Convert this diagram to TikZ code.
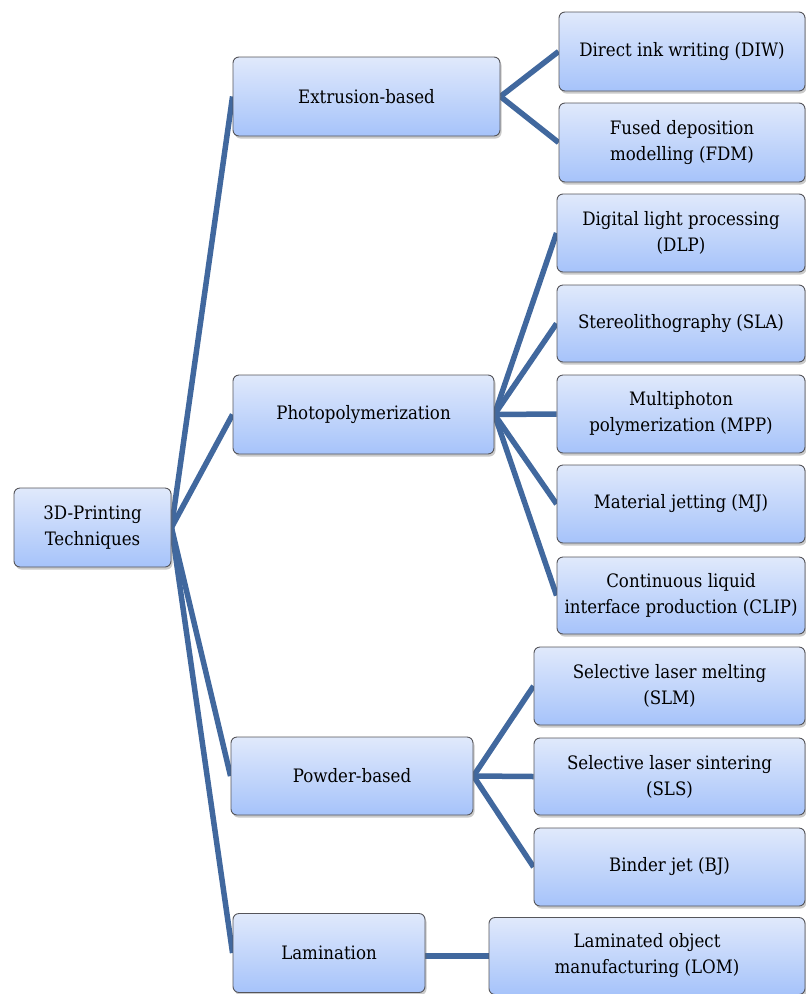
\documentclass[tikz,border=0pt]{standalone}
\usepackage{fontspec}
\setmainfont{DejaVu Serif Condensed}
\usepackage{tikz}
\usetikzlibrary{shadows,backgrounds}

\definecolor{boxtop}{RGB}{224,233,251}
\definecolor{boxbottom}{RGB}{166,195,250}
\definecolor{boxedge}{RGB}{85,85,90}
\definecolor{linkblue}{RGB}{65,104,158}

\begin{document}
\begin{tikzpicture}[x=1pt,y=-1pt]
        % Define the styles for the boxes and the links
        \tikzstyle{techbox}=[draw=boxedge, line width=0.9pt, rounded corners=6pt, top color=boxtop, bottom color=boxbottom, align=center, inner sep=0pt, font=\fontsize{18.5}{26}\selectfont, drop shadow={shadow xshift=1.5pt, shadow yshift=-2.5pt, opacity=0.35, fill=black!60}];
        \tikzstyle{link}=[draw=linkblue, line width=5.5pt];

        \useasboundingbox (0,0) rectangle (806,994);

        % Root of the tree
        \node[techbox, minimum width=157pt, minimum height=79pt] (root) at (92.5,527.5) {3D-Printing\\Techniques};

        % The four families
        \node[techbox, minimum width=267pt, minimum height=79pt] (extrusion) at (366.5,96.5) {Extrusion-based};
        \node[techbox, minimum width=261pt, minimum height=79pt] (photo) at (363.5,414.5) {Photopolymerization};
        \node[techbox, minimum width=242pt, minimum height=78pt] (powder) at (352,776) {Powder-based};
        \node[techbox, minimum width=192pt, minimum height=79pt] (lamination) at (329,953) {Lamination};

        % Extrusion-based techniques
        \node[techbox, minimum width=246pt, minimum height=79pt] (diw) at (682,51.5) {Direct ink writing (DIW)};
        \node[techbox, minimum width=246pt, minimum height=79pt] (fdm) at (682,142.5) {Fused deposition\\modelling (FDM)};

        % Photopolymerization techniques
        \node[techbox, minimum width=248pt, minimum height=78pt] (dlp) at (681,233) {Digital light processing\\(DLP)};
        \node[techbox, minimum width=248pt, minimum height=77pt] (sla) at (681,323.5) {Stereolithography (SLA)};
        \node[techbox, minimum width=248pt, minimum height=78pt] (mpp) at (681,414) {Multiphoton\\polymerization (MPP)};
        \node[techbox, minimum width=248pt, minimum height=78pt] (mj) at (681,504) {Material jetting (MJ)};
        \node[techbox, minimum width=248pt, minimum height=77pt] (clip) at (681,595.5) {Continuous liquid\\interface production (CLIP)};

        % Powder-based techniques
        \node[techbox, minimum width=271pt, minimum height=78pt] (slm) at (669.5,686) {Selective laser melting\\(SLM)};
        \node[techbox, minimum width=271pt, minimum height=77pt] (sls) at (669.5,776.5) {Selective laser sintering\\(SLS)};
        \node[techbox, minimum width=271pt, minimum height=78pt] (bj) at (669.5,867) {Binder jet (BJ)};

        % Lamination technique
        \node[techbox, minimum width=316pt, minimum height=77pt] (lom) at (647,956) {Laminated object\\manufacturing (LOM)};

        % Links behind the boxes
        \begin{scope}[on background layer]
            \draw[link] (root.east) -- (extrusion.west);
            \draw[link] (root.east) -- (photo.west);
            \draw[link] (root.east) -- (powder.west);
            \draw[link] (root.east) -- (lamination.west);

            \draw[link] (extrusion.east) -- (diw.west);
            \draw[link] (extrusion.east) -- (fdm.west);

            \draw[link] (photo.east) -- (dlp.west);
            \draw[link] (photo.east) -- (sla.west);
            \draw[link] (photo.east) -- (mpp.west);
            \draw[link] (photo.east) -- (mj.west);
            \draw[link] (photo.east) -- (clip.west);

            \draw[link] (powder.east) -- (slm.west);
            \draw[link] (powder.east) -- (sls.west);
            \draw[link] (powder.east) -- (bj.west);

            \draw[link] (lom.west -| lamination.east) -- (lom.west);
        \end{scope}
    \end{tikzpicture}
\end{document}
